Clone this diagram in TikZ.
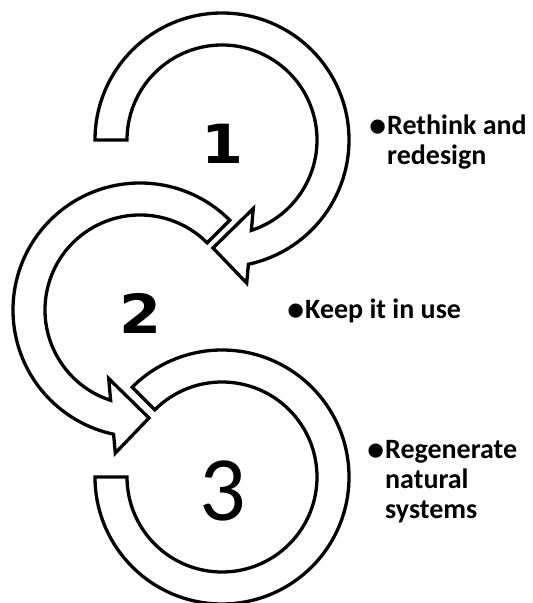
\documentclass[tikz,border=0pt]{standalone}
\usepackage{fontspec}
\setmainfont{Carlito}
\newfontfamily\digitfont{DejaVu Sans}
\newcommand\leadbullet{\llap{\raisebox{-2pt}{\scalebox{1.2}{•}}\hspace{1pt}}}
\tikzset{
  ring/.style={draw=black, fill=white, line width=3.3pt, line join=miter},
  stepnum/.style={font=\digitfont\bfseries\fontsize{54}{54}\selectfont, inner sep=0pt, xscale=1.12},
  lastnum/.style={font=\fontsize{92}{92}\selectfont, inner sep=0pt},
  bullettext/.style={font=\bfseries\fontsize{28}{30}\selectfont, align=left, anchor=west, inner sep=0pt},
}
\begin{document}
\begin{tikzpicture}[x=1pt,y=1pt]
  \fill[white] (0,0) rectangle (533,603);
  \useasboundingbox (0,0) rectangle (533,603);

  % third ring: open band, no head
  \begin{scope}[shift={(222,126)}]
    \draw[ring] (180:127) arc[start angle=180,end angle=495,radius=127]
      -- (135:95) arc[start angle=135,end angle=-180,radius=95] -- cycle;
  \end{scope}

  % second ring: counter-clockwise arrow into the third ring
  \begin{scope}[shift={(140,293)}]
    \draw[ring] (45:127) arc[start angle=45,end angle=258,radius=127]
      -- (-24.7,-143.1) -- (9,-108) -- (-31.3,-68.5)
      -- (252:95) arc[start angle=252,end angle=45,radius=95] -- cycle;
  \end{scope}

  % first ring: clockwise arrow into the second ring
  \begin{scope}[shift={(222,463)}]
    \draw[ring] (180:127) arc[start angle=180,end angle=-78,radius=127]
      -- (24.7,-143.1) -- (-9,-108) -- (31.3,-68.5)
      -- (-72:95) arc[start angle=-72,end angle=180,radius=95] -- cycle;
  \end{scope}

  % step numbers
  \node[stepnum] (n1) at (222.5,459) {1};
  \node[stepnum] (n2) at (140.5,290) {2};
  \node[lastnum] (n3) at (222.5,112.5) {3};

  % bullet labels
  \node[bullettext] (t1) at (387,461) {\leadbullet Rethink and\\redesign};
  \node[bullettext] (t2) at (305,292) {\leadbullet Keep it in use};
  \node[bullettext] (t3) at (385,121) {\leadbullet Regenerate\\natural\\systems};
\end{tikzpicture}
\end{document}
